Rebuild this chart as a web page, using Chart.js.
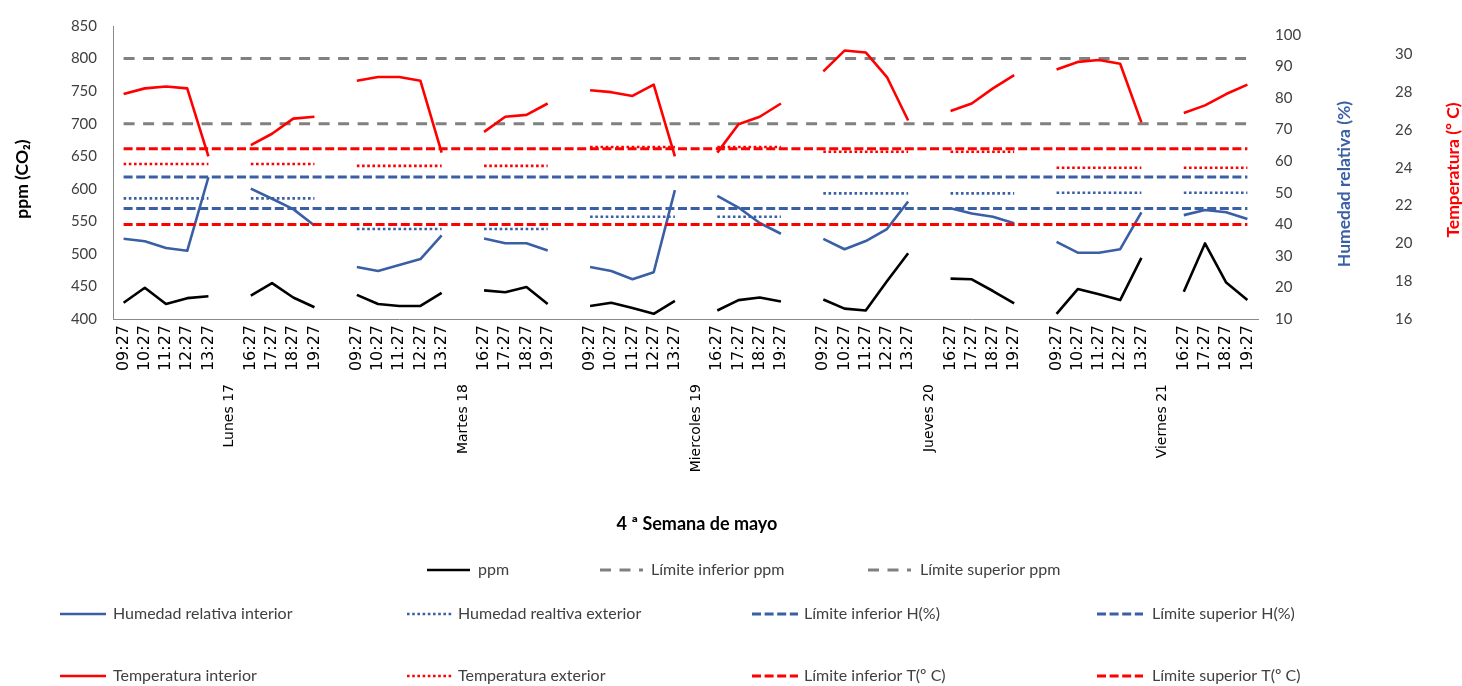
<!DOCTYPE html>
<html>
<head>
<meta charset="utf-8">
<script src="https://cdn.jsdelivr.net/npm/chart.js@4"></script>
<style>
  html, body { margin: 0; padding: 0; background: #fff; }
</style>
</head>
<body>
<canvas id="chart" width="1462" height="686"></canvas>
<script>
// Categories
const days = ['Lunes 17', 'Martes 18', 'Miercoles 19', 'Jueves 20', 'Viernes 21'];
const morningTimes = ['09:27', '10:27', '11:27', '12:27', '13:27'];
const afternoonTimes = ['16:27', '17:27', '18:27', '19:27'];

// 9 readings per day: 5 morning + 4 afternoon
const ppm = [
  425, 448, 423, 432, 435,   436, 455, 433, 418,
  437, 423, 420, 420, 440,   444, 441, 449, 423,
  420, 425, 417, 408, 428,   413, 429, 433, 427,
  430, 416, 413, 458, 501,   462, 461, 443, 424,
  408, 446, 438, 429, 494,   442, 516, 456, 429
];
const humInterior = [
  35.4, 34.6, 32.5, 31.6, 54.9,   51.3, 48.1, 44.8, 39.6,
  26.5, 25.2, 27.1, 29.0, 36.5,   35.5, 34.0, 34.0, 31.7,
  26.5, 25.2, 22.6, 24.8, 50.8,   49.0, 45.3, 40.4, 37.0,
  35.4, 32.1, 34.7, 38.5, 47.2,   45.1, 43.4, 42.4, 40.3,
  34.4, 31.0, 31.0, 32.1, 43.8,   42.9, 44.5, 43.8, 41.7
];
const tempInterior = [
  27.9, 28.2, 28.3, 28.2, 24.6,   25.2, 25.8, 26.6, 26.7,
  28.6, 28.8, 28.8, 28.6, 24.8,   25.9, 26.7, 26.8, 27.4,
  28.1, 28.0, 27.8, 28.4, 24.6,   24.8, 26.3, 26.7, 27.4,
  29.1, 30.2, 30.1, 28.8, 26.5,   27.0, 27.4, 28.2, 28.9,
  29.2, 29.6, 29.7, 29.5, 26.4,   26.9, 27.3, 27.9, 28.4
];
// exterior: one value per half day (morning, afternoon)
const humExterior = [48.2, 48.2, 38.5, 38.5, 42.4, 42.4, 49.8, 49.8, 50.0, 50.0];
const tempExterior = [24.2, 24.2, 24.1, 24.1, 25.1, 25.1, 24.85, 24.85, 24.0, 24.0];

// limits [inferior, superior]
const ppmLimits = [700, 800];
const humLimits = [45, 55];
const tempLimits = [21, 25];

// build the category axis: morning, gap, afternoon, gap between days
const labels = [];
days.forEach((d, i) => {
  labels.push(...morningTimes, '', ...afternoonTimes);
  if (i < days.length - 1) labels.push('');
});

function spread(values) {
  const out = [];
  days.forEach((d, i) => {
    const v = values.slice(i * 9, i * 9 + 9);
    out.push(...v.slice(0, 5), null, ...v.slice(5));
    if (i < days.length - 1) out.push(null);
  });
  return out;
}

function spreadHalf(values) {
  const out = [];
  days.forEach((d, i) => {
    out.push(...morningTimes.map(() => values[i * 2]), null, ...afternoonTimes.map(() => values[i * 2 + 1]));
    if (i < days.length - 1) out.push(null);
  });
  return out;
}

const flat = v => labels.map(() => v);

const BLACK = '#000000';
const GRAY = '#808080';
const BLUE = '#3A5FA5';
const RED = '#FF0000';

function line(label, data, color, axis, dash, width) {
  return {
    label: label,
    data: data,
    yAxisID: axis,
    borderColor: color,
    backgroundColor: color,
    borderWidth: width || 2.6,
    borderDash: dash || [],
    borderJoinStyle: 'round',
    pointRadius: 0,
    tension: 0,
    spanGaps: false,
    fill: false
  };
}

const datasets = [
  line('ppm', spread(ppm), BLACK, 'y'),
  line('Límite inferior ppm', flat(ppmLimits[0]), GRAY, 'y', [11, 8.5], 3),
  line('Límite superior ppm', flat(ppmLimits[1]), GRAY, 'y', [11, 8.5], 3),
  line('Humedad relativa interior', spread(humInterior), BLUE, 'hum'),
  line('Humedad realtiva exterior', spreadHalf(humExterior), BLUE, 'hum', [2.6, 2.6]),
  line('Límite inferior H(%)', flat(humLimits[0]), BLUE, 'hum', [9, 3.6], 3),
  line('Límite superior H(%)', flat(humLimits[1]), BLUE, 'hum', [9, 3.6], 3),
  line('Temperatura interior', spread(tempInterior), RED, 'temp'),
  line('Temperatura exterior', spreadHalf(tempExterior), RED, 'temp', [2.6, 2.6]),
  line('Límite inferior T(º C)', flat(tempLimits[0]), RED, 'temp', [9, 3.6], 3),
  line('Límite superior T(º C)', flat(tempLimits[1]), RED, 'temp', [9, 3.6], 3)
];
// later series drawn on top, like the original
datasets.forEach((ds, i) => { ds.order = datasets.length - i; });

// legend slots: [sample x, y, sample length, text x]
const legendSlots = [
  [427, 570, 43, 478], [600, 570, 43, 651], [868, 570, 43, 920],
  [60, 614, 46, 113], [407, 614, 46, 458], [752, 614, 46, 804], [1097, 614, 46, 1152],
  [60, 676, 46, 113], [407, 676, 46, 458], [752, 676, 46, 804], [1097, 676, 46, 1152]
];

function rotatedText(ctx, text, x, y, font, color) {
  ctx.save();
  ctx.translate(x, y);
  ctx.rotate(-Math.PI / 2);
  ctx.font = font;
  ctx.fillStyle = color;
  ctx.textAlign = 'center';
  ctx.textBaseline = 'middle';
  ctx.fillText(text, 0, 0);
  ctx.restore();
}

const extras = {
  id: 'extras',
  afterDraw(chart) {
    const ctx = chart.ctx;
    const xs = chart.scales.x;
    ctx.save();

    // day names under the times
    ctx.font = '14px "DejaVu Sans"';
    ctx.fillStyle = '#000';
    ctx.textAlign = 'right';
    ctx.textBaseline = 'middle';
    days.forEach((d, i) => {
      ctx.save();
      ctx.translate(xs.getPixelForValue(i * 11 + 5), 384);
      ctx.rotate(-Math.PI / 2);
      ctx.fillText(d, 0, 0);
      ctx.restore();
    });

    // axis titles
    rotatedText(ctx, 'ppm (CO₂)', 22, 179, 'bold 17.5px Lato', '#000');
    rotatedText(ctx, 'Humedad relativa (%)', 1344, 184, 'bold 17.5px Lato', BLUE);
    rotatedText(ctx, 'Temperatura (º C)', 1453, 170, 'bold 17.5px Lato', RED);
    ctx.font = 'bold 18px Lato';
    ctx.fillStyle = '#000';
    ctx.textAlign = 'center';
    ctx.textBaseline = 'middle';
    ctx.fillText('4 ª Semana de mayo', 697, 524);

    // legend
    ctx.font = '16px Lato';
    ctx.textAlign = 'left';
    chart.data.datasets.forEach((ds, i) => {
      const [sx, sy, len, tx] = legendSlots[i];
      ctx.save();
      ctx.strokeStyle = ds.borderColor;
      ctx.lineWidth = ds.borderWidth;
      ctx.setLineDash(ds.borderDash);
      ctx.beginPath();
      ctx.moveTo(sx, sy);
      ctx.lineTo(sx + len, sy);
      ctx.stroke();
      ctx.restore();
      ctx.fillStyle = '#404040';
      ctx.fillText(ds.label, tx, sy);
    });
    ctx.restore();
  }
};

const tickFont = { family: 'Lato', size: 15 };

new Chart(document.getElementById('chart').getContext('2d'), {
  type: 'line',
  data: { labels: labels, datasets: datasets },
  options: {
    responsive: false,
    animation: false,
    layout: { padding: { top: 21, left: 0, right: 0, bottom: 0 } },
    plugins: {
      legend: { display: false },
      tooltip: { enabled: false }
    },
    scales: {
      x: {
        offset: true,
        grid: { display: false, drawTicks: false, offset: true },
        border: { color: '#898989' },
        ticks: {
          autoSkip: false,
          maxRotation: 90,
          minRotation: 90,
          padding: 6,
          color: '#000',
          font: { family: 'DejaVu Sans', size: 16 }
        },
        afterFit: s => { s.height = 367; }
      },
      y: {
        position: 'left',
        min: 400,
        max: 850,
        grid: { display: false, drawTicks: false },
        border: { color: '#898989' },
        ticks: { stepSize: 50, padding: 16, color: '#404040', font: tickFont },
        afterFit: s => { s.width = 113; }
      },
      hum: {
        position: 'right',
        min: 10,
        max: 102.8,
        grid: { display: false, drawTicks: false },
        border: { display: false },
        ticks: { stepSize: 10, includeBounds: false, padding: 17, color: '#404040', font: tickFont },
        afterFit: s => { s.width = 122; }
      },
      temp: {
        position: 'right',
        min: 16,
        max: 31.5,
        grid: { display: false, drawTicks: false },
        border: { display: false },
        ticks: { stepSize: 2, includeBounds: false, padding: 15, color: '#404040', font: tickFont },
        afterFit: s => { s.width = 82; }
      }
    }
  },
  plugins: [extras]
});
</script>
</body>
</html>
